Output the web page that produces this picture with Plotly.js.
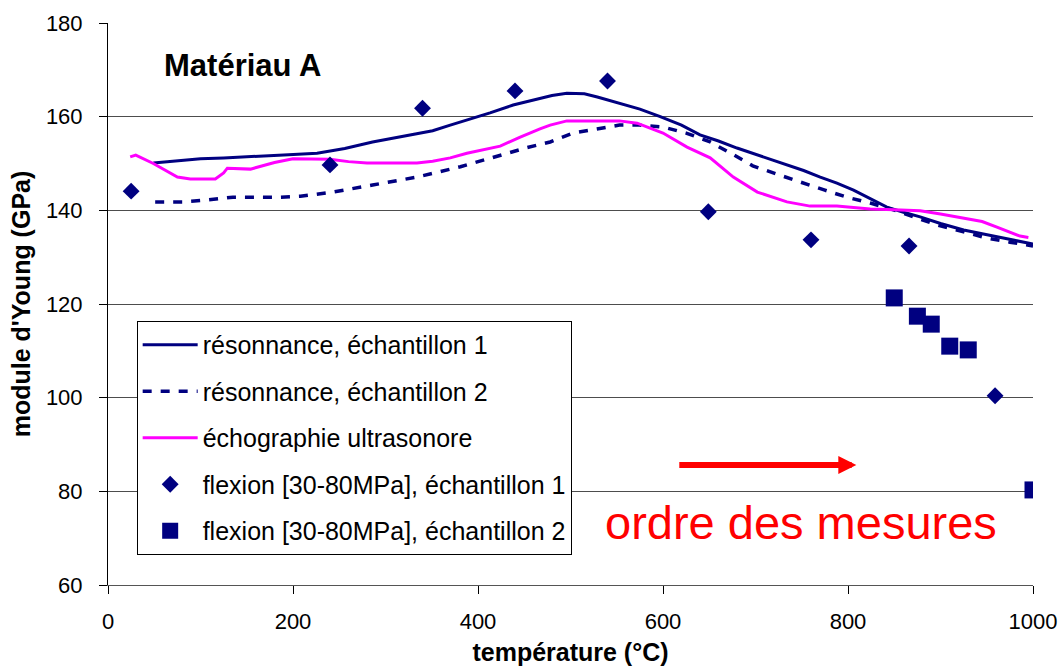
<!DOCTYPE html>
<html>
<head>
<meta charset="utf-8">
<script src="https://cdn.plot.ly/plotly-3.0.1.min.js"></script>
<style>html,body{margin:0;padding:0;background:#fff;}#chart{width:1064px;height:672px;}</style>
</head>
<body>
<div id="chart"></div>
<script>
// résonnance, échantillon 1
const res1X = [49, 75, 100, 125, 150, 190, 226, 256, 286, 320, 351, 370, 388, 413, 438, 460, 480, 496, 515, 529, 553, 575, 597, 620, 640, 660, 680, 707, 734, 752, 770, 788, 806, 824, 842, 860, 878, 900, 925, 945, 964, 980, 1000];
const res1Y = [150.1, 150.5, 151, 151.2, 151.4, 151.8, 152.2, 153.2, 154.6, 155.8, 157, 158.2, 159.3, 160.8, 162.5, 163.5, 164.5, 165, 164.9, 164.2, 162.9, 161.6, 160, 158.2, 156.1, 154.8, 153.3, 151.5, 149.7, 148.5, 147.1, 145.8, 144.3, 142.5, 140.7, 139.6, 138.6, 137.2, 135.8, 135, 134.3, 133.6, 132.8];
// résonnance, échantillon 2
const res2X = [51, 81, 107, 135, 160, 186, 208, 243, 286, 334, 381, 424, 453, 478, 503, 530, 553, 575, 600, 625, 651, 675, 697, 725, 751, 775, 799, 825, 849, 872, 896, 925, 950, 975, 1000];
const res2Y = [141.8, 141.8, 142.2, 142.8, 142.8, 142.8, 143, 143.9, 145.4, 147.1, 149.3, 151.8, 153.4, 154.6, 156.5, 157.4, 158.2, 158.2, 157.8, 156.5, 154.6, 152, 149.5, 147.6, 145.8, 144.3, 142.8, 141.5, 140.1, 138.6, 136.9, 135.4, 134.1, 133.2, 132.4];
// échographie ultrasonore
const echoX = [24, 30, 49, 62, 75, 89, 116, 125, 129, 154, 180, 200, 226, 240, 260, 280, 334, 351, 370, 388, 424, 445, 467, 478, 496, 520, 553, 572, 600, 626, 651, 676, 702, 734, 759, 788, 824, 850, 878, 900, 925, 945, 961, 986, 995];
const echoY = [151.4, 151.8, 150, 148.5, 147.1, 146.7, 146.7, 148, 149, 148.8, 150.2, 151, 151, 150.9, 150.4, 150.1, 150.1, 150.5, 151.2, 152.2, 153.7, 155.6, 157.4, 158.2, 159.1, 159.1, 159.1, 158.6, 156.5, 153.5, 151.2, 147.1, 143.9, 141.8, 140.9, 140.9, 140.3, 140.1, 139.9, 139.2, 138.4, 137.6, 136.4, 134.5, 134.2];
// flexion [30-80MPa], échantillon 1
const flex1X = [25, 240, 340, 440, 540, 649, 760, 866, 959];
const flex1Y = [144.1, 149.7, 161.8, 165.5, 167.6, 139.7, 133.7, 132.4, 100.4];
// flexion [30-80MPa], échantillon 2
const flex2X = [850, 875, 890, 910, 930, 1000];
const flex2Y = [121.3, 117.4, 115.7, 111, 110.2, 80.3];

const names = ["résonnance, échantillon 1", "résonnance, échantillon 2", "échographie ultrasonore", "flexion [30-80MPa], échantillon 1", "flexion [30-80MPa], échantillon 2"];
const xTicks = [0, 200, 400, 600, 800, 1000];
const yTicks = [60, 80, 100, 120, 140, 160, 180];

const navy = "#000080";
const FONT = "Liberation Sans, Arial, sans-serif";

const traces = [
  {x: res1X, y: res1Y, name: names[0], mode: "lines", legendgroup: "a", line: {color: navy, width: 3}},
  {x: res2X, y: res2Y, name: names[1], mode: "lines", legendgroup: "b", line: {color: navy, width: 3.5, dash: "9px,9px"}},
  {x: echoX, y: echoY, name: names[2], mode: "lines", legendgroup: "c", line: {color: "#FF00FF", width: 3}},
  {x: flex1X, y: flex1Y, name: names[3], mode: "markers", legendgroup: "d", marker: {symbol: "diamond", size: 13, color: navy}},
  {x: flex2X, y: flex2Y, name: names[4], mode: "markers", legendgroup: "e", marker: {symbol: "square", size: 17, color: navy}}
];

const layout = {
  width: 1064, height: 672,
  margin: {l: 108, r: 31, t: 23, b: 87},
  paper_bgcolor: "#fff", plot_bgcolor: "#fff",
  font: {family: FONT, color: "#000"},
  showlegend: true,
  legend: {
    x: 0.031, y: 0.4698, xanchor: "left", yanchor: "top",
    bordercolor: "#000", borderwidth: 1, bgcolor: "#fff",
    font: {family: FONT, size: 25, color: "#000"},
    tracegroupgap: 11, traceorder: "grouped", itemwidth: 55
  },
  xaxis: {
    range: [0, 1000], tickvals: xTicks, ticktext: xTicks.map(String),
    ticks: "outside", ticklen: 8, tickcolor: "#000",
    showline: true, linecolor: "#555", linewidth: 1,
    showgrid: false, zeroline: false,
    tickfont: {family: FONT, size: 22, color: "#000"},
    ticklabelstandoff: 9,
    title: {text: "température (°C)", font: {family: FONT, size: 25, color: "#000", weight: "bold"}, standoff: 10}
  },
  yaxis: {
    range: [60, 180], tickvals: yTicks, ticktext: yTicks.map(String),
    ticks: "outside", ticklen: 8, tickcolor: "#000",
    showline: true, linecolor: "#000", linewidth: 1,
    showgrid: true, gridcolor: "#4d4d4d", gridwidth: 1, zeroline: false,
    tickfont: {family: FONT, size: 22, color: "#000"},
    ticklabelstandoff: 12,
    title: {text: "module d'Young (GPa)", font: {family: FONT, size: 25, color: "#000", weight: "bold"}, standoff: 8}
  },
  annotations: [
    {x: 58, y: 171, xref: "x", yref: "y", text: "<b>Matériau A</b>", showarrow: false, xanchor: "left", yanchor: "middle", font: {family: FONT, size: 31, color: "#000"}},
    {x: 749, y: 73.4, xref: "x", yref: "y", text: "ordre des mesures", showarrow: false, xanchor: "center", yanchor: "middle", font: {family: FONT, size: 47, color: "#FF0000"}},
    {x: 809, y: 85.6, ax: 616, ay: 85.6, xref: "x", yref: "y", axref: "x", ayref: "y", text: "", showarrow: true, arrowhead: 2, arrowsize: 0.6, arrowwidth: 6, arrowcolor: "#FF0000"}
  ]
};

Plotly.newPlot("chart", traces, layout, {displayModeBar: false, staticPlot: true});
</script>
</body>
</html>
